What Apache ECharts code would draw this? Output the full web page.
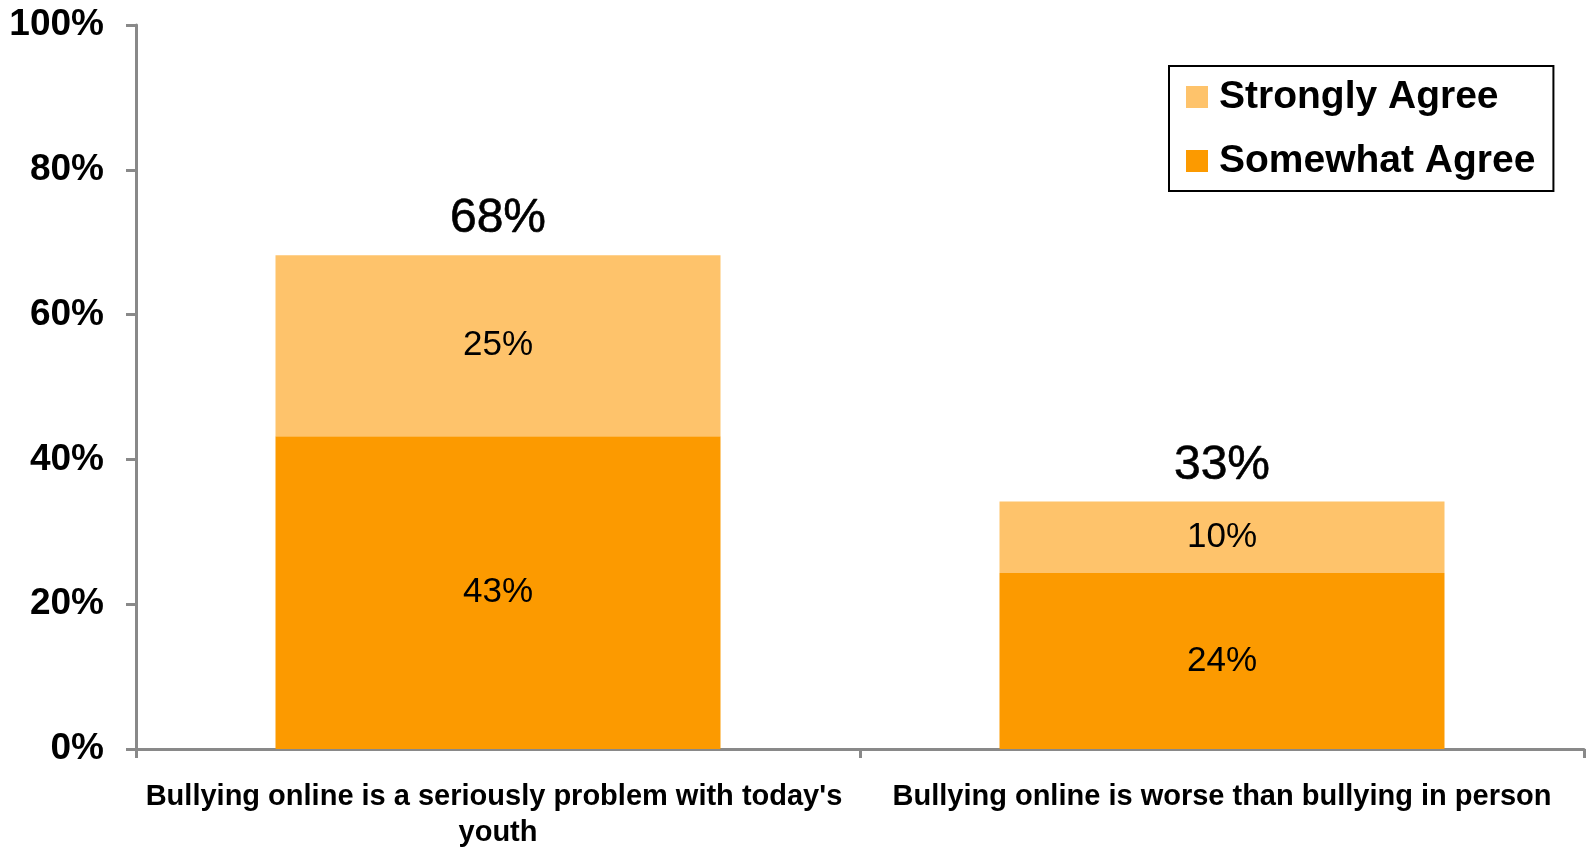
<!DOCTYPE html>
<html>
<head>
<meta charset="utf-8">
<script src="https://cdn.jsdelivr.net/npm/echarts@6/dist/echarts.min.js"></script>
<style>
html,body{margin:0;padding:0;background:#fff;}
#c{width:1586px;height:851px;}
</style>
</head>
<body>
<div id="c"></div>
<script>
var categories = ["Bullying online is a seriously problem with today's youth", "Bullying online is worse than bullying in person"];
var somewhatAgree = [43.2, 24.3];
var stronglyAgree = [25.0, 9.9];
var somewhatLabels = ["43%", "24%"];
var stronglyLabels = ["25%", "10%"];
var totalLabels = ["68%", "33%"];
var yTicks = [0, 20, 40, 60, 80, 100];

var FONT = "Liberation Sans";
var chart = echarts.init(document.getElementById('c'));
var totalPoints = categories.map(function (c, i) { return [i, somewhatAgree[i] + stronglyAgree[i]]; });

chart.setOption({
  animation: false,
  backgroundColor: '#ffffff',
  grid: { left: 136, right: 2, top: 25, bottom: 100, containLabel: false },
  legend: {
    data: ['Strongly Agree', 'Somewhat Agree'],
    orient: 'vertical',
    left: 1169, top: 66,
    backgroundColor: '#ffffff',
    borderColor: '#000000', borderWidth: 2, borderRadius: 0,
    padding: [10, 18, 9, 17],
    itemWidth: 22, itemHeight: 22, itemGap: 22,
    icon: 'rect',
    selectedMode: false,
    textStyle: { fontFamily: FONT, fontSize: 39, fontWeight: 'bold', color: '#000', lineHeight: 42, padding: [0, 0, 0, 6] }
  },
  xAxis: {
    type: 'category',
    data: categories,
    boundaryGap: true,
    axisLine: { show: true, lineStyle: { color: '#898989', width: 3 } },
    axisTick: { show: true, length: 9, lineStyle: { color: '#898989', width: 3 } },
    axisLabel: {
      interval: 0, margin: 30, width: 716, overflow: 'break',
      fontFamily: FONT, fontSize: 29, fontWeight: 'bold', color: '#000', lineHeight: 36
    }
  },
  yAxis: {
    type: 'value', min: 0, max: 100, interval: 20,
    axisLine: { show: true, lineStyle: { color: '#898989', width: 3 } },
    axisTick: { show: true, length: 10, lineStyle: { color: '#898989', width: 3 } },
    splitLine: { show: false },
    axisLabel: {
      margin: 32, fontFamily: FONT, fontSize: 37, fontWeight: 'bold', color: '#000',
      formatter: function (v) { return yTicks.indexOf(v) >= 0 ? v + '%' : ''; }
    }
  },
  series: [
    {
      name: 'Somewhat Agree', type: 'bar', stack: 'a', barWidth: 445,
      data: somewhatAgree,
      itemStyle: { color: '#FC9A00' },
      label: { show: true, position: 'inside', fontFamily: FONT, fontSize: 35, color: '#000',
        formatter: function (p) { return somewhatLabels[p.dataIndex]; } }
    },
    {
      name: 'Strongly Agree', type: 'bar', stack: 'a', barWidth: 445,
      data: stronglyAgree,
      itemStyle: { color: '#FEC36B' },
      label: { show: true, position: 'inside', fontFamily: FONT, fontSize: 35, color: '#000',
        formatter: function (p) { return stronglyLabels[p.dataIndex]; } }
    },
    {
      name: 'Total', type: 'scatter', symbolSize: 0, data: totalPoints, silent: true,
      itemStyle: { color: '#000000', opacity: 1 },
      label: { show: true, position: 'top', distance: 12, fontFamily: FONT, fontSize: 48, color: '#000000',
        textBorderColor: '#000000', textBorderWidth: 0.6, opacity: 1,
        formatter: function (p) { return totalLabels[p.dataIndex]; } }
    }
  ]
});
</script>
</body>
</html>
